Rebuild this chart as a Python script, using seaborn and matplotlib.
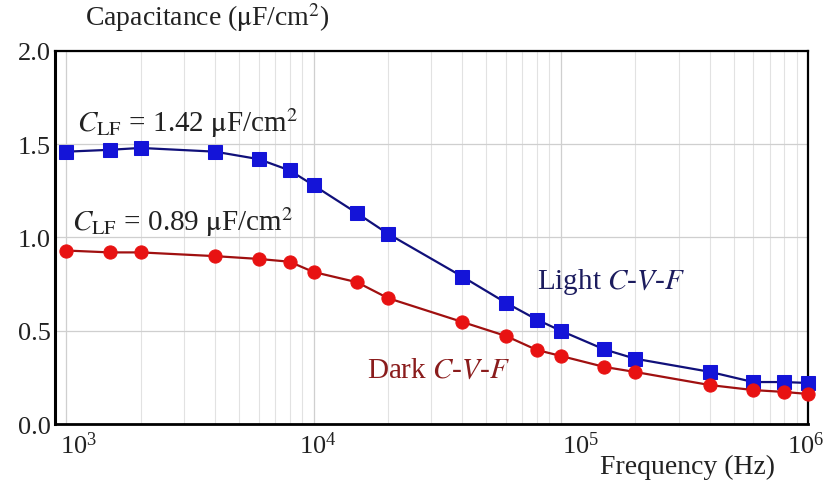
import numpy as np
import matplotlib
matplotlib.use('Agg')
import matplotlib.pyplot as plt
import matplotlib.transforms as mtransforms
from matplotlib.ticker import LogLocator, LogFormatterMathtext, NullFormatter
import seaborn as sns
import pandas as pd

sns.set_style('white')
plt.rcParams['font.family'] = ['Liberation Serif', 'DejaVu Serif']
plt.rcParams['mathtext.fontset'] = 'stix'

# frequencies (Hz) and capacitance (uF/cm^2)
freq = [1e3, 1.5e3, 2e3, 4e3, 6e3, 8e3, 1e4, 1.5e4, 2e4, 4e4, 6e4, 8e4,
        1e5, 1.5e5, 2e5, 4e5, 6e5, 8e5, 1e6]
light = [1.46, 1.47, 1.48, 1.46, 1.42, 1.36, 1.28, 1.13, 1.02, 0.79, 0.65,
         0.56, 0.50, 0.40, 0.35, 0.28, 0.225, 0.225, 0.22]
dark = [0.93, 0.92, 0.92, 0.90, 0.885, 0.87, 0.815, 0.76, 0.675, 0.547,
        0.472, 0.397, 0.365, 0.306, 0.279, 0.209, 0.182, 0.172, 0.161]

df = pd.DataFrame({'Frequency': freq, 'Light': light, 'Dark': dark})

fig = plt.figure(figsize=(8.38, 4.81), dpi=100)
ax = fig.add_axes([0.0656, 0.1164, 0.8986, 0.7756])

sns.lineplot(data=df, x='Frequency', y='Light', ax=ax, color='#10107a',
             linewidth=1.6, marker='s', markersize=10,
             markerfacecolor='#1414d8', markeredgecolor='#1414d8',
             clip_on=False, zorder=3)
sns.lineplot(data=df, x='Frequency', y='Dark', ax=ax, color='#a01010',
             linewidth=1.6, marker='o', markersize=9.5,
             markerfacecolor='#e81212', markeredgecolor='#e81212',
             clip_on=False, zorder=4)

ax.set_xscale('log')
ax.set_xlim(900, 1e6)
ax.set_ylim(0, 2.0)
ax.set_yticks([0.0, 0.5, 1.0, 1.5, 2.0])
ax.set_yticklabels(['0.0', '0.5', '1.0', '1.5', '2.0'])
ax.xaxis.set_major_locator(LogLocator(base=10, numticks=10))
ax.xaxis.set_major_formatter(LogFormatterMathtext())
ax.xaxis.set_minor_locator(LogLocator(base=10, subs=np.arange(2, 10), numticks=20))
ax.xaxis.set_minor_formatter(NullFormatter())

ax.grid(True, which='major', color='#cfcfcf', linewidth=0.9)
ax.grid(True, which='minor', axis='x', color='#e2e2e2', linewidth=0.8)
ax.tick_params(axis='y', which='both', length=0, labelsize=19,
               colors='#222222', pad=3)
ax.tick_params(axis='x', which='both', length=0, labelsize=19,
               colors='#222222', pad=5)

# the decade labels are drawn a bit off their gridlines in the original
fig.canvas.draw()
offsets = {3: 12, 4: 4, 5: 20, 6: -2}
for tick_x, lab in zip(ax.get_xticks(), ax.get_xticklabels()):
    dx = offsets.get(int(round(np.log10(tick_x))), 0)
    shift = mtransforms.ScaledTranslation(dx / 100, 0, fig.dpi_scale_trans)
    lab.set_transform(lab.get_transform() + shift)

ax.set_xlabel('')
ax.set_ylabel('')
for side in ['left', 'bottom', 'top', 'right']:
    ax.spines[side].set_color('black')
    ax.spines[side].set_linewidth(1.6)
ax.spines['left'].set_linewidth(2.2)
ax.spines['bottom'].set_linewidth(2.0)

fig.text(0.247, 0.963, r'Capacitance ($\mathrm{\mu}$F/cm$^2$)', fontsize=20,
         color='#222222', va='center', ha='center')
fig.text(0.821, 0.029, 'Frequency (Hz)', fontsize=20, color='#222222',
         va='center', ha='center')

ax.text(3.08e3, 1.62, r'$C_{\mathrm{LF}}$ = 1.42 $\mathrm{\mu}$F/cm$^2$',
        fontsize=21, color='#222222', va='center', ha='center')
ax.text(2.94e3, 1.09, r'$C_{\mathrm{LF}}$ = 0.89 $\mathrm{\mu}$F/cm$^2$',
        fontsize=21, color='#222222', va='center', ha='center')
ax.text(1.6e5, 0.767, r'Light $C$-$V$-$F$', fontsize=21, color='#1c1c5e',
        va='center', ha='center')
ax.text(3.2e4, 0.29, r'Dark $C$-$V$-$F$', fontsize=21, color='#8a1c1c',
        va='center', ha='center')

fig.savefig('out.png', dpi=100)
